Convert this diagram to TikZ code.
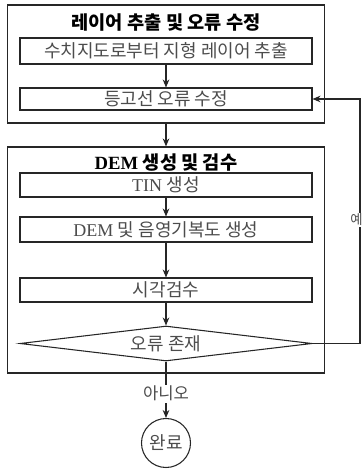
\documentclass[tikz,border=0pt]{standalone}
\usepackage{fontspec}
\setmainfont{Liberation Serif}
\newfontfamily\kr{Noto Sans CJK KR}
\usetikzlibrary{shapes.geometric,arrows.meta}
\begin{document}
\begin{tikzpicture}[x=0.75pt,y=-0.75pt,
  outerbox/.style={draw=black!85,line width=0.9pt,minimum width=317*0.75pt,inner sep=0pt},
  stepbox/.style={draw=black!85,line width=0.8pt,minimum width=292*0.75pt,inner sep=0pt,font=\fontsize{13.5}{15}\selectfont,text=black!70},
  titletext/.style={font=\fontsize{14}{16}\selectfont\bfseries,text=black},
  arr/.style={draw=black!85,line width=0.8pt,-{Stealth[length=6pt,width=5pt]}},
  lbl/.style={fill=white,inner sep=1pt,font=\fontsize{12.5}{14}\selectfont,text=black!70}]
\useasboundingbox (0,0) rectangle (363,470);
\begin{scope}
\clip (0,0) rectangle (363,470);
% outer boxes
\node[outerbox,minimum height=118*0.75pt] (g1) at (166,64) {};
\node[outerbox,minimum height=226*0.75pt] (g2) at (166,260) {};
\node[titletext] (t1) at (166,23) {\kr 레이어 추출 및 오류 수정};
\node[titletext] (t2) at (166,163) {DEM {\kr 생성 및 검수}};
% steps
\node[stepbox,minimum height=26*0.75pt] (b1) at (166,51) {\kr 수치지도로부터 지형 레이어 추출};
\node[stepbox,minimum height=22*0.75pt] (b2) at (166,99) {\kr 등고선 오류 수정};
\node[stepbox,minimum height=24*0.75pt] (b3) at (166,185) {TIN {\kr 생성}};
\node[stepbox,minimum height=25*0.75pt] (b4) at (166,229.5) {DEM {\kr 및 음영기복도 생성}};
\node[stepbox,minimum height=24*0.75pt] (b5) at (166,290) {\kr 시각검수};
\node[diamond,draw=black!85,line width=0.8pt,aspect=8.3,inner sep=0pt,minimum width=292*0.75pt,minimum height=35*0.75pt,font=\fontsize{13.5}{15}\selectfont,text=black!70] (d) at (166,343.5) {\kr 오류 존재};
\node[circle,draw=black!85,line width=0.8pt,minimum size=49*0.75pt,inner sep=0pt,font=\fontsize{13.5}{15}\selectfont,text=black!70] (e) at (166,443) {\kr 완료};
% connectors
\draw[arr] (b1.south) -- (b2.north);
\draw[arr] (g1.south) -- (g2.north);
\draw[arr] (b3.south) -- (b4.north);
\draw[arr] (b4.south) -- (b5.north);
\draw[arr] (b5.south) -- (d.north);
\draw[arr] (d.south) -- node[lbl,pos=0.57] {\kr 아니오} (e.north);
\coordinate (r1) at (360,343.5);
\coordinate (r2) at (360,99);
\draw[arr] (d.east) -- (r1) -- (r2) -- (b2.east);
\node[lbl,font=\fontsize{10}{12}\selectfont,inner sep=0.5pt] (yes) at (356.5,220) {\kr 예};
\end{scope}
\end{tikzpicture}
\end{document}
